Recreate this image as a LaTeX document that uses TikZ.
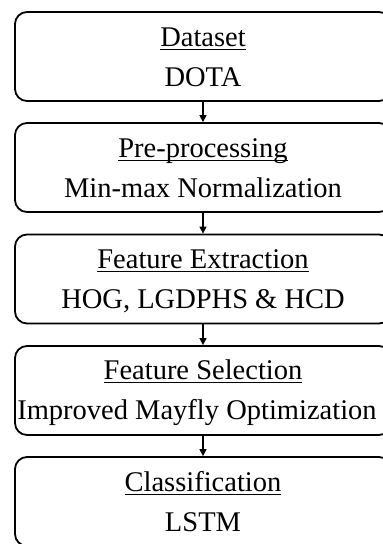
\documentclass[tikz,border=0pt]{standalone}
\usepackage{fontspec}
\setmainfont{Liberation Serif}
\usetikzlibrary{arrows.meta}
\newcommand\ulx[1]{\setbox0\hbox{#1}\rlap{\rule[-3.4pt]{\wd0}{1.3pt}}\box0}
\newcommand\topst{\rule{0pt}{24pt}}
\newcommand\botst{\rule[-4pt]{0pt}{4pt}}
\tikzset{
  stagebox/.style={draw, line width=1.8pt, rounded corners=12pt, minimum width=376pt, minimum height=89pt, align=center, inner sep=0pt,
    font=\fontsize{28.5}{40}\selectfont},
  flowarrow/.style={line width=1.3pt, -{Triangle[length=7pt,width=7pt]}}
}
\begin{document}
\begin{tikzpicture}[x=1pt,y=-1pt]
\useasboundingbox (0,0) rectangle (383,544);
\clip (0,0) rectangle (383,544);
\node[stagebox] (b1) at (203,56.5) {\topst\ulx{Dataset}\\DOTA\botst};
\node[stagebox] (b2) at (203,167.5) {\topst\ulx{Pre-processing}\\Min-max Normalization\botst};
\node[stagebox] (b3) at (203,279) {\topst\ulx{Feature Extraction}\\HOG, LGDPHS \& HCD\botst};
\node[stagebox] (b4) at (203,390.5) {\topst\ulx{Feature Selection}\\Improved Mayfly Optimization\hspace*{12pt}\botst};
\node[stagebox] (b5) at (203,501.5) {\topst\ulx{Classification}\\LSTM\botst};
\draw[flowarrow] (b1.south) -- (b2.north);
\draw[flowarrow] (b2.south) -- (b3.north);
\draw[flowarrow] (b3.south) -- (b4.north);
\draw[flowarrow] (b4.south) -- (b5.north);
\end{tikzpicture}
\end{document}
